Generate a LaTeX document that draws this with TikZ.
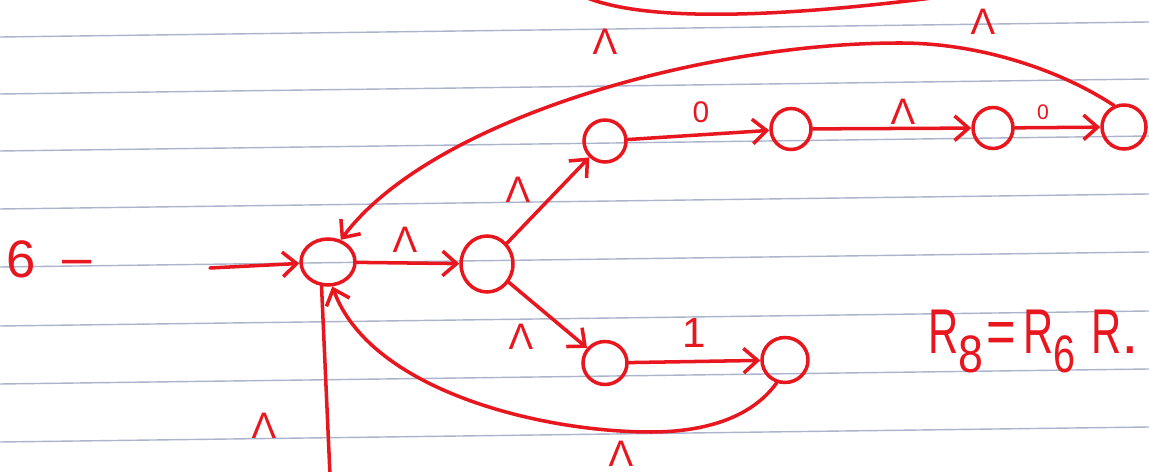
\documentclass[tikz,border=0pt]{standalone}
\usepackage{fontspec}
\setmainfont{Liberation Sans}
\usetikzlibrary{arrows.meta,shapes.geometric}
\definecolor{ink}{RGB}{232,22,30}
\definecolor{rule}{RGB}{172,180,204}
\begin{document}
\begin{tikzpicture}[x=0.02cm,y=-0.02cm,
  st/.style={draw=ink, line width=2pt, ellipse, inner sep=0pt},
  pen/.style={draw=ink, line width=2pt, line cap=round},
  edge/.style={pen, -{Straight Barb[length=8pt,width=14pt,line width=2pt]}},
  lab/.style={text=ink, inner sep=0pt, font=\fontsize{21}{21}\selectfont},
  paper/.style={draw=rule, line width=0.8pt}]
\useasboundingbox[fill=white] (0,0) rectangle (1149,472);
\foreach \y in {37,94,151,209,267,326,384,442}
  \draw[paper] (0,\y) -- (1149,\y-15);

% states
\node[st, minimum width=1.08cm, minimum height=0.92cm] (s0) at (328,262) {};
\node[st, minimum width=1.04cm, minimum height=1.12cm] (s1) at (487,264) {};
\node[st, minimum width=0.84cm, minimum height=0.84cm] (s2) at (605,141) {};
\node[st, minimum width=0.80cm, minimum height=0.82cm] (s3) at (791,129) {};
\node[st, minimum width=0.80cm, minimum height=0.82cm] (s4) at (993,128) {};
\node[st, minimum width=0.88cm, minimum height=0.88cm] (s5) at (1124,127) {};
\node[st, minimum width=0.88cm, minimum height=0.86cm] (s6) at (605,363) {};
\node[st, minimum width=0.92cm, minimum height=0.90cm] (s7) at (785,360) {};

% free ends
\coordinate (init) at (210,268);
\coordinate (bot) at (330,475);
\coordinate (tA) at (585,-3);
\coordinate (tB) at (940,-3);

% connectors
\draw[edge] (init) -- (s0);
\draw[edge] (s0) -- (s1);
\draw[edge] (s1) -- (s2);
\draw[edge] (s2) -- (s3);
\draw[edge] (s3) -- (s4);
\draw[edge] (s4) -- (s5);
\draw[edge] (s1) -- (s6);
\draw[edge] (s6) -- (s7);
\draw[edge] (s5.115) .. controls (1060,70) and (980,43) .. (900,43)
   .. controls (700,43) and (430,120) .. (s0.60);
\draw[edge] (s7.250) .. controls (750,420) and (700,432) .. (651,432)
   .. controls (540,432) and (370,390) .. (s0.-80);
\draw[pen] (bot) -- (s0.-105);
\draw[pen] (tA) .. controls (640,20) and (760,20) .. (tB);

% labels
\node[lab] (l01) at (405,240) {Λ};
\node[lab] (l12) at (518,190) {Λ};
\node[lab, font=\fontsize{17}{17}\selectfont] (l23) at (701,112) {0};
\node[lab] (l34) at (903,112) {Λ};
\node[lab, font=\fontsize{12}{12}\selectfont] (l45) at (1043,112) {0};
\node[lab] (l50) at (983,22) {Λ};
\node[lab] (ltop) at (605,42) {Λ};
\node[lab] (l16) at (521,337) {Λ};
\node[lab, font=\fontsize{24}{24}\selectfont] (l67) at (694,333) {1};
\node[lab] (l70) at (621,454) {Λ};
\node[lab] (lbot) at (264,426) {Λ};
\node[lab, font=\fontsize{30}{30}\selectfont] (six) at (21,259) {6};
\node[lab, font=\fontsize{30}{30}\selectfont] (dash) at (77,268) {–};

% equation
\node[lab, anchor=base west, font=\fontsize{36}{36}\selectfont] (eq) at (928,354)
  {\scalebox{0.66}[1]{R}\raisebox{-0.3em}{\fontsize{30}{30}\selectfont\scalebox{0.85}[1]{8}}\hspace{0.05em}\scalebox{0.8}[1]{=}\hspace{0.12em}\scalebox{0.66}[1]{R}\raisebox{-0.3em}{\fontsize{30}{30}\selectfont\scalebox{0.75}[1]{6}}\hspace{0.25em}\scalebox{0.66}[1]{R}.};
\end{tikzpicture}
\end{document}
